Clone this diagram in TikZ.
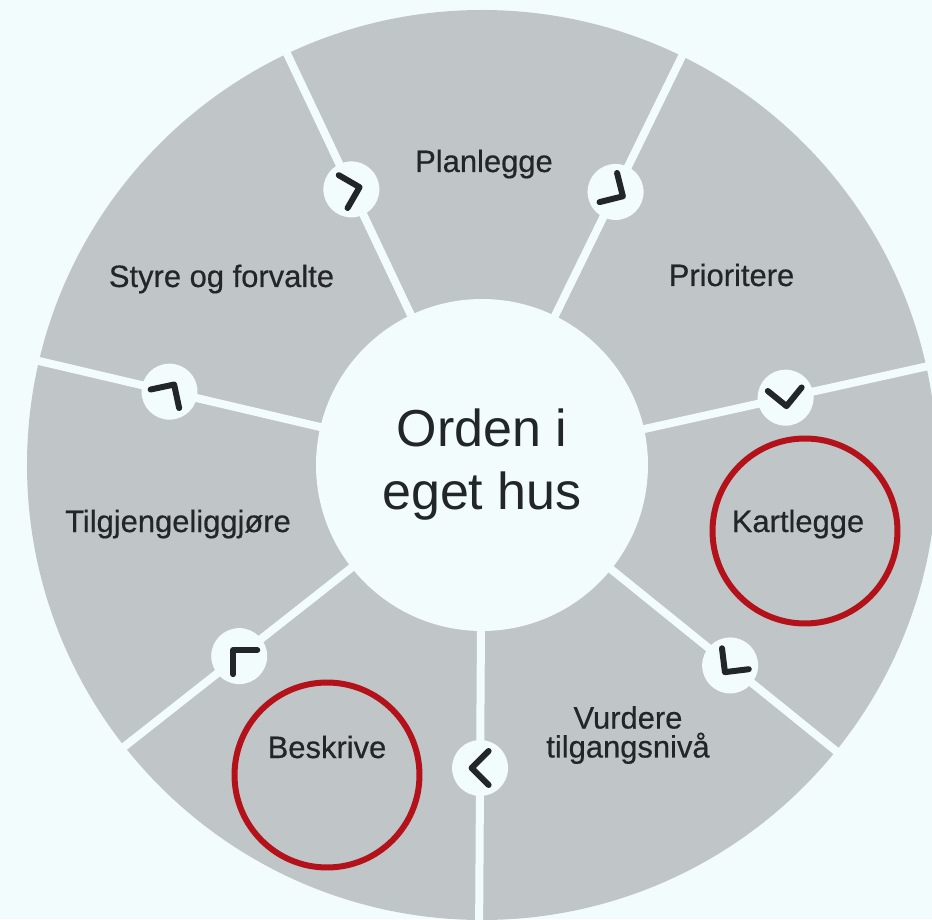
\documentclass[tikz,border=0pt]{standalone}
\usepackage{fontspec}
\setmainfont{Liberation Sans}
\newfontfamily\medfont{Liberation Sans}[FakeBold=0.5]
\definecolor{bg}{HTML}{F3FCFD}
\definecolor{seg}{HTML}{C0C6C7}
\definecolor{ink}{HTML}{222628}
\definecolor{mark}{HTML}{B3121B}
\tikzset{
	lbl/.style={text=ink, font=\medfont\fontsize{17.6}{16.5}\selectfont, align=center, inner sep=0pt},
	knob/.style={circle, fill=bg, minimum size=1.12cm, inner sep=0pt},
	chev/.style={draw=ink, line width=0.12cm, line cap=round, line join=round},
	spoke/.style={draw=bg, line width=0.16cm},
	ring/.style={circle, draw=mark, line width=0.12cm, minimum size=3.7cm, inner sep=0pt}
}
\begin{document}
\begin{tikzpicture}[x=0.02cm, y=0.02cm]
	\path[use as bounding box, fill=bg] (-482, -454) rectangle (450, 465);
	\clip (-482, -454) rectangle (450, 465);
	\fill[seg] (0, 0) circle (455);
	\foreach \a/\d/\p [count=\i] in {12.5/311/-84, 63.93/304/-31, 115.36/305/15, 166.79/321/57, 218.21/309/135, 269.64/303/180, 321.07/319/-128} {
		\draw[spoke] (0, 0) -- (\a:480);
		\node[knob] (K_\i) at (\a:\d) {};
		\draw[chev, shift={(K_\i)}, rotate=\p] (-8.5, 17) -- (8.5, 0) -- (-8.5, -17);
	}
	\node[circle, fill=bg, minimum size=6.64cm, inner sep=0pt, text=ink, align=center, font=\fontsize{29.6}{35.8}\selectfont] (hub) at (0, 0) {Orden i\\eget hus};
	\node[lbl, anchor=base] (L_plan) at (2, 293) {Planlegge};
	\node[lbl, anchor=base] (L_prio) at (249.5, 179) {Prioritere};
	\node[lbl, anchor=base] (L_kart) at (316, -67) {Kartlegge};
	\node[lbl] (L_vurd) at (146, -270) {Vurdere\\tilgangsnivå};
	\node[lbl, anchor=base] (L_besk) at (-155, -293) {Beskrive};
	\node[lbl, anchor=base] (L_tilg) at (-304, -67) {Tilgjengeliggjøre};
	\node[lbl, anchor=base] (L_styr) at (-260.5, 178) {Styre og forvalte};
	\node[ring] (R_kart) at (323, -66) {};
	\node[ring] (R_besk) at (-155, -310) {};
\end{tikzpicture}
\end{document}
